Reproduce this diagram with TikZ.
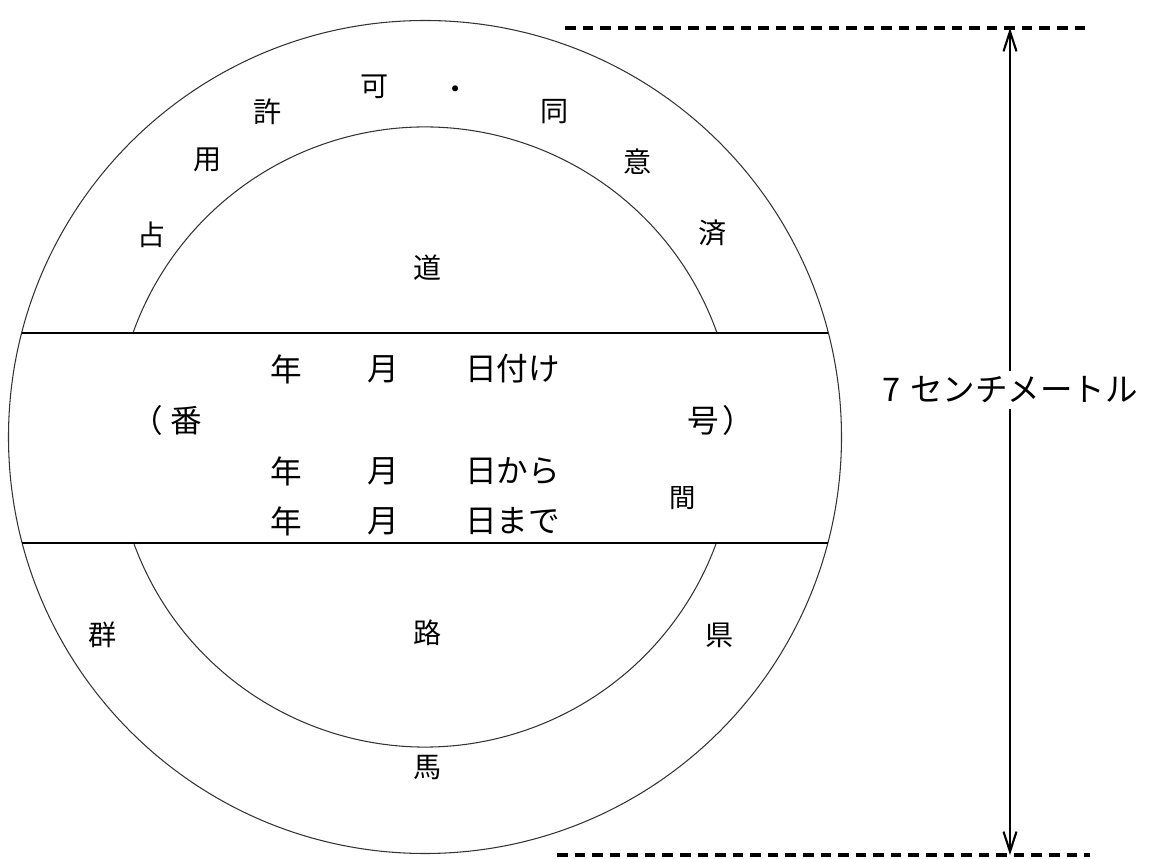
\documentclass[tikz,border=0pt]{standalone}
\usepackage{fontspec}
\usepackage{tikz}
\usetikzlibrary{arrows.meta}
\newfontfamily\jp{Noto Sans CJK JP}

\begin{document}
\begin{tikzpicture}[
		ringtext/.style={font=\jp\fontsize{16}{16}\selectfont},
		bandtext/.style={font=\jp\fontsize{18}{18}\selectfont},
		dimline/.style={line width=1.2pt, {Straight Barb[length=4mm, width=2.6mm]}-{Straight Barb[length=4mm, width=2.6mm]}},
		guide/.style={line width=2pt, dash pattern=on 6pt off 4pt}
	]

		% Marco de la hoja
		\useasboundingbox (-8.5,-8.44) rectangle (14.48,8.74);

		% Circulos
		\draw[line width=0.6pt, black!80] (0,0) circle (8.33cm); % Circulo exterior
		\draw[line width=0.6pt, black!80] (19.8:6.2) arc (19.8:160.2:6.2); % Arco interior arriba
		\draw[line width=0.6pt, black!80] (199.8:6.2) arc (199.8:340.2:6.2); % Arco interior abajo

		% Franja central
		\draw[line width=0.8pt] (-8.06,2.08) -- (8.06,2.08);
		\draw[line width=0.8pt] (-8.05,-2.12) -- (8.05,-2.12);

		% Anillo superior
		\node[ringtext] (sen) at (-5.46, 4.04) {占};
		\node[ringtext] (you) at (-4.34, 5.54) {用};
		\node[ringtext] (kyo) at (-3.14, 6.5) {許};
		\node[ringtext] (ka) at (-1.0, 7.0) {可};
		\node[ringtext] (ten) at (0.62, 6.88) {・};
		\node[ringtext] (dou) at (2.6, 6.5) {同};
		\node[ringtext] (i) at (4.26, 5.5) {意};
		\node[ringtext] (sai) at (5.76, 4.08) {済};
		\node[ringtext] (michi) at (0.06, 3.38) {道};

		% Anillo inferior
		\node[ringtext] (gun) at (-6.44, -3.96) {群};
		\node[ringtext] (ro) at (0.06, -3.92) {路};
		\node[ringtext] (ken) at (5.9, -3.96) {県};
		\node[ringtext] (uma) at (0.06, -6.62) {馬};

		% Fechas
		\node[bandtext, anchor=west, inner sep=0pt] (nen1) at (-3.1, 1.36) {年};
		\node[bandtext, anchor=west, inner sep=0pt] (tsuki1) at (-1.16, 1.36) {月};
		\node[bandtext, anchor=west, inner sep=0pt] (hi1) at (0.8, 1.36) {日付け};
		\node[bandtext, anchor=east, inner sep=0pt] (ban) at (-4.44, 0.34) {（\hspace{0.25em}番};
		\node[bandtext, anchor=west, inner sep=0pt] (gou) at (5.24, 0.34) {号\hspace{0.1em}）};
		\node[bandtext, anchor=west, inner sep=0pt] (nen2) at (-3.1, -0.68) {年};
		\node[bandtext, anchor=west, inner sep=0pt] (tsuki2) at (-1.16, -0.68) {月};
		\node[bandtext, anchor=west, inner sep=0pt] (hi2) at (0.8, -0.68) {日から};
		\node[bandtext, anchor=west, inner sep=0pt] (nen3) at (-3.1, -1.68) {年};
		\node[bandtext, anchor=west, inner sep=0pt] (tsuki3) at (-1.16, -1.68) {月};
		\node[bandtext, anchor=west, inner sep=0pt] (hi3) at (0.8, -1.68) {日まで};
		\node[font=\jp\fontsize{15}{15}\selectfont] (aida) at (5.16, -1.22) {間};

		% Cota de 7 cm
		\draw[guide] (2.8, 8.18) -- (13.3, 8.18);
		\draw[guide] (2.64, -8.36) -- (13.3, -8.36);
		\coordinate (arriba) at (11.7, 8.18);
		\coordinate (abajo) at (11.7, -8.36);
		\draw[dimline] (arriba) -- (abajo);
		\node[font=\jp\fontsize{18.5}{18.5}\selectfont, fill=white, inner sep=3pt] (medida) at (11.7, 0.94) {7\hspace{0.3em}センチメートル};

	\end{tikzpicture}
\end{document}
